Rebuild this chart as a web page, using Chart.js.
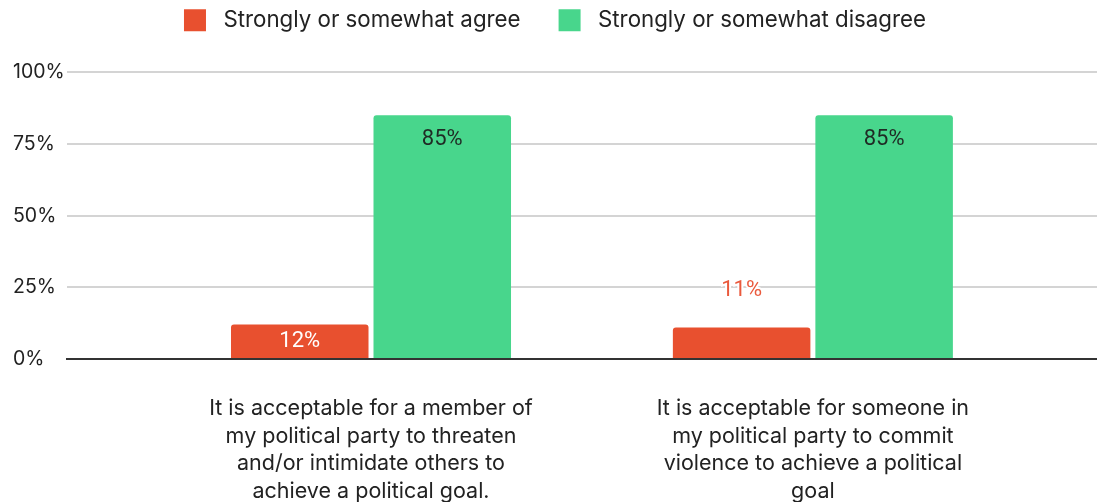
<!DOCTYPE html>
<html>
<head>
<meta charset="utf-8">
<title>Acceptability of political intimidation and violence</title>
<script src="https://cdn.jsdelivr.net/npm/chart.js"></script>
<style>
  html, body { margin: 0; padding: 0; background: #fff; }
  .wrap { width: 1097px; height: 502px; }
</style>
</head>
<body>
<div class="wrap"><canvas id="c"></canvas></div>
<script>
const categories = [
  ['It is acceptable for a member of', 'my political party to threaten', 'and/or intimidate others to', 'achieve a political goal.'],
  ['It is acceptable for someone in', 'my political party to commit', 'violence to achieve a political', 'goal']
];
const seriesNames = ['Strongly or somewhat agree', 'Strongly or somewhat disagree'];
const agree = [12, 11];
const disagree = [85, 85];
const yTicks = [0, 25, 50, 75, 100];

const RED = '#e8502f';
const GREEN = '#48d68c';
const FONT = 'Inter, "DejaVu Sans", sans-serif';

// value labels on top of / inside the bars
const barLabels = {
  id: 'barLabels',
  afterDatasetsDraw(chart) {
    const ctx = chart.ctx;
    ctx.save();
    ctx.font = '22px Roboto, sans-serif';
    ctx.textAlign = 'center';
    ctx.textBaseline = 'middle';
    chart.data.datasets.forEach((ds, di) => {
      chart.getDatasetMeta(di).data.forEach((bar, i) => {
        const text = ds.data[i].y + '%';
        const h = bar.base - bar.y;
        if (di === 1) {
          ctx.fillStyle = '#1f2a24';
          ctx.fillText(text, bar.x, bar.y + 24);
        } else if (h >= 33) {
          ctx.fillStyle = '#fff';
          ctx.fillText(text, bar.x, (bar.y + bar.base) / 2);
        } else {
          ctx.lineWidth = 4;
          ctx.strokeStyle = '#fff';
          ctx.strokeText(text, bar.x, bar.y - 37);
          ctx.fillStyle = '#ea5a3d';
          ctx.fillText(text, bar.x, bar.y - 37);
        }
      });
    });
    ctx.restore();
  }
};

// extra room between the legend and the plot
const legendGap = {
  id: 'legendGap',
  beforeInit(chart) {
    const fit = chart.legend.fit;
    chart.legend.fit = function () {
      fit.call(this);
      this.height += 31;
    };
  }
};

const toPoints = arr => arr.map((v, i) => ({ x: i + 1, y: v }));

new Chart(document.getElementById('c'), {
  type: 'bar',
  data: {
    datasets: [
      { label: seriesNames[0], data: toPoints(agree), backgroundColor: RED, borderRadius: { topLeft: 3, topRight: 3 } },
      { label: seriesNames[1], data: toPoints(disagree), backgroundColor: GREEN, borderRadius: { topLeft: 3, topRight: 3 } }
    ]
  },
  plugins: [barLabels, legendGap],
  options: {
    responsive: true,
    maintainAspectRatio: false,
    animation: false,
    categoryPercentage: 0.645,
    barPercentage: 0.965,
    layout: { padding: { top: -29, left: 13, right: 0, bottom: 0 } },
    plugins: {
      tooltip: { enabled: false },
      legend: {
        position: 'top',
        labels: {
          boxWidth: 22,
          boxHeight: 22,
          padding: 38,
          color: '#222',
          font: { family: FONT, size: 22.3 },
          generateLabels: chart => Chart.defaults.plugins.legend.labels.generateLabels(chart)
            .map(l => Object.assign(l, { text: ' ' + l.text, lineWidth: 0 }))
        }
      }
    },
    scales: {
      x: {
        type: 'linear',
        offset: false,
        min: 0.312,
        max: 2.643,
        afterBuildTicks: s => { s.ticks = categories.map((c, i) => ({ value: i + 1 })); },
        afterFit: s => { s.height = 143; },
        ticks: {
          callback: v => categories[v - 1],
          color: '#222',
          padding: 28,
          maxRotation: 0,
          autoSkip: false,
          font: { family: FONT, size: 21.5, lineHeight: 1.28 }
        },
        grid: { display: false, offset: false },
        border: { color: '#333', width: 2 }
      },
      y: {
        min: 0,
        max: 100,
        afterBuildTicks: s => { s.ticks = yTicks.map(v => ({ value: v })); },
        afterFit: s => { s.width = 54; },
        ticks: {
          callback: v => v + '%',
          color: '#222',
          padding: 11,
          crossAlign: 'far',
          font: { family: FONT, size: 19.5 }
        },
        grid: {
          color: c => c.tick && c.tick.value === 0 ? '#333' : '#d4d4d4',
          lineWidth: 2,
          drawTicks: false
        },
        border: { display: false }
      }
    }
  }
});
</script>
</body>
</html>
